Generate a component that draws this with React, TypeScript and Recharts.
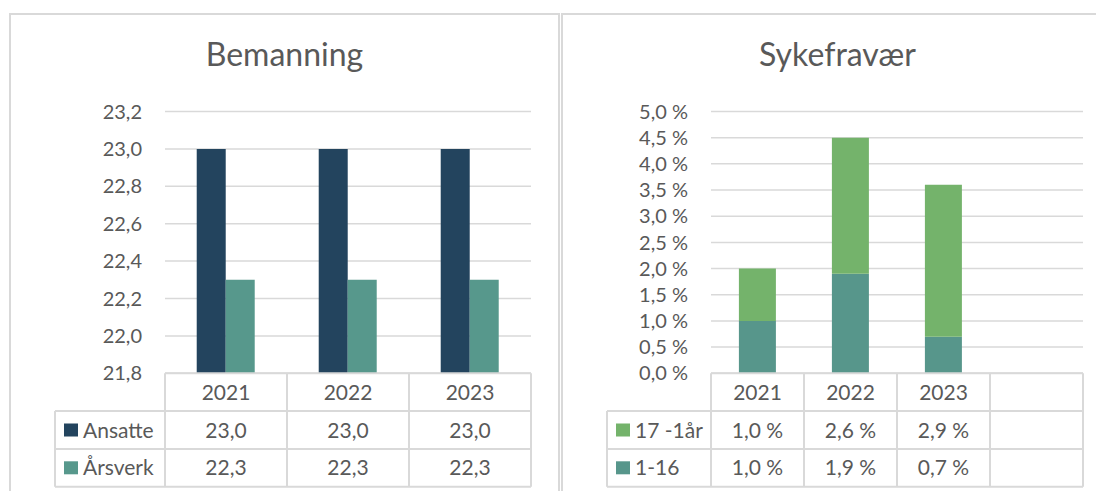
import { BarChart, Bar, XAxis, YAxis, CartesianGrid } from "recharts";

// Bemanning
const years = ["2021", "2022", "2023"];
const ansatte = [23.0, 23.0, 23.0];
const arsverk = [22.3, 22.3, 22.3];
const staffTicks = [21.8, 22.0, 22.2, 22.4, 22.6, 22.8, 23.0, 23.2];

// Sykefravær (prosent)
const sickYears = ["2021", "2022", "2023", " "];
const long17 = [1.0, 2.6, 2.9, null];
const short116 = [1.0, 1.9, 0.7, null];
const sickTicks = [0, 0.5, 1.0, 1.5, 2.0, 2.5, 3.0, 3.5, 4.0, 4.5, 5.0];

const staffData = years.map((y, i) => ({ year: y, ansatte: ansatte[i], arsverk: arsverk[i] }));
const sickData = sickYears.map((y, i) => ({ year: y, s17: long17[i], s116: short116[i] }));

const TEXT = "#595959";
const LINE = "#d9d9d9";
const FONT = "Lato, Calibri, sans-serif";
const ROW_H = 37.8;

const comma = (v: number) => v.toFixed(1).replace(".", ",");
const pct = (v: number) => comma(v) + " %";

type Row = { name: string; color: string; values: (number | null)[]; fmt: (v: number) => string };

function tableTick(rows: Row[], colW: number, legendW: number) {
  return (props: any) => {
    const { x, y, payload, index } = props;
    const left = x - colW / 2;
    const right = x + colW / 2;
    const bottom = y + ROW_H * 3;
    const ln = { stroke: LINE, strokeWidth: 2 };
    return (
      <g>
        <line x1={left} y1={y} x2={left} y2={bottom} {...ln} />
        <line x1={right} y1={y} x2={right} y2={bottom} {...ln} />
        {[0, 1, 2, 3].map((k) => (
          <line key={k} x1={left} y1={y + ROW_H * k} x2={right} y2={y + ROW_H * k} {...ln} />
        ))}
        <text x={x} y={y + ROW_H / 2} dy="0.36em" textAnchor="middle" fill={TEXT} fontSize={21}>
          {payload.value}
        </text>
        {rows.map((r, i) => {
          const v = r.values[index];
          if (v == null) return null;
          return (
            <text key={r.name} x={x} y={y + ROW_H * (i + 1.5)} dy="0.36em" textAnchor="middle" fill={TEXT} fontSize={21}>
              {r.fmt(v)}
            </text>
          );
        })}
        {index === 0 && (
          <g>
            <line x1={left - legendW} y1={y + ROW_H} x2={left - legendW} y2={bottom} {...ln} />
            {[1, 2, 3].map((k) => (
              <line key={k} x1={left - legendW} y1={y + ROW_H * k} x2={left} y2={y + ROW_H * k} {...ln} />
            ))}
            {rows.map((r, i) => {
              const cy = y + ROW_H * (i + 1.5);
              return (
                <g key={r.name}>
                  <rect x={left - legendW + 9} y={cy - 6.5} width={14} height={13} fill={r.color} />
                  <text x={left - legendW + 28} y={cy} dy="0.36em" fill={TEXT} fontSize={21}>
                    {r.name}
                  </text>
                </g>
              );
            })}
          </g>
        )}
      </g>
    );
  };
}

const staffRows: Row[] = [
  { name: "Ansatte", color: "#23445e", values: ansatte, fmt: comma },
  { name: "Årsverk", color: "#57988c", values: arsverk, fmt: comma },
];

const sickRows: Row[] = [
  { name: "17 -1år", color: "#74b36b", values: long17, fmt: pct },
  { name: "1-16", color: "#57968b", values: short116, fmt: pct },
];

const boxStyle: React.CSSProperties = {
  position: "absolute",
  left: 0,
  top: 0,
  right: 0,
  bottom: 0,
  border: `2px solid ${LINE}`,
  boxSizing: "border-box",
};

const titleStyle: React.CSSProperties = {
  position: "absolute",
  left: 0,
  right: 0,
  top: 21,
  height: 40,
  lineHeight: "40px",
  fontSize: 32,
  color: TEXT,
  textAlign: "center",
};

export default function App() {
  return (
    <div
      style={{
        position: "fixed",
        left: 0,
        top: 0,
        width: 1096,
        height: 491,
        overflow: "hidden",
        background: "#fff",
        fontFamily: FONT,
      }}
    >
      <div style={{ position: "absolute", left: 9, top: 13, width: 551, height: 500 }}>
        <div style={boxStyle} />
        <div style={titleStyle}>Bemanning</div>
        <div style={{ position: "absolute", left: 0, top: 0 }}>
          <BarChart
            width={551}
            height={478}
            data={staffData}
            margin={{ top: 98.5, right: 29, left: 0, bottom: 0 }}
            barCategoryGap="26%"
            barGap={0}
          >
            <CartesianGrid vertical={false} stroke={LINE} strokeWidth={1.5} />
            <YAxis
              width={156}
              domain={[21.8, 23.2]}
              ticks={staffTicks}
              interval={0}
              axisLine={false}
              tickLine={false}
              tickMargin={17}
              tickFormatter={comma}
              tick={{ fill: TEXT, fontSize: 20 }}
            />
            <XAxis
              dataKey="year"
              height={117.7}
              axisLine={false}
              tickLine={false}
              tickSize={0}
              tickMargin={0}
              interval={0}
              tick={tableTick(staffRows, 122, 110)}
            />
            <Bar dataKey="ansatte" name="Ansatte" fill="#23445e" isAnimationActive={false} />
            <Bar dataKey="arsverk" name="Årsverk" fill="#57988c" isAnimationActive={false} />
          </BarChart>
        </div>
      </div>

      <div style={{ position: "absolute", left: 561, top: 13, width: 553, height: 500 }}>
        <div style={boxStyle} />
        <div style={titleStyle}>Sykefravær</div>
        <div style={{ position: "absolute", left: 0, top: 0 }}>
          <BarChart
            width={553}
            height={478}
            data={sickData}
            margin={{ top: 98.5, right: 31, left: 0, bottom: 0 }}
            barCategoryGap="30%"
          >
            <CartesianGrid vertical={false} stroke={LINE} strokeWidth={1.5} />
            <YAxis
              width={150}
              domain={[0, 5]}
              ticks={sickTicks}
              interval={0}
              axisLine={false}
              tickLine={false}
              tickMargin={17}
              tickFormatter={pct}
              tick={{ fill: TEXT, fontSize: 20 }}
            />
            <XAxis
              dataKey="year"
              height={117.7}
              axisLine={false}
              tickLine={false}
              tickSize={0}
              tickMargin={0}
              interval={0}
              tick={tableTick(sickRows, 93, 104)}
            />
            <Bar dataKey="s116" name="1-16" stackId="a" fill="#57968b" isAnimationActive={false} />
            <Bar dataKey="s17" name="17 -1år" stackId="a" fill="#74b36b" isAnimationActive={false} />
          </BarChart>
        </div>
      </div>
    </div>
  );
}
